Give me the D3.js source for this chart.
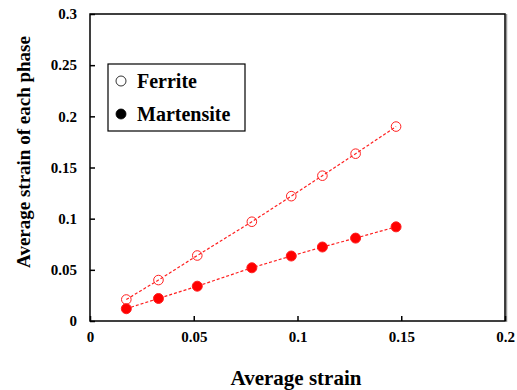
<!DOCTYPE html>
<html>
<head>
    <title>Average strain of each phase</title>
    <script src="https://cdnjs.cloudflare.com/ajax/libs/d3/7.8.5/d3.min.js"></script>
    <style>
    body { margin:0; background:#fff; }
    svg text { font-weight:bold; fill:#000; }
    </style>
</head>
<body>
<div class='chart'></div>
<script>
// values
var avg_strain = [0.0175, 0.033, 0.0517, 0.078, 0.097, 0.112, 0.128, 0.1475];
var ferrite    = [0.021, 0.040, 0.064, 0.097, 0.122, 0.142, 0.1635, 0.190];
var martensite = [0.012, 0.022, 0.034, 0.052, 0.0635, 0.0723, 0.081, 0.092];
var x_ticks = [0, 0.05, 0.1, 0.15, 0.2];
var y_ticks = [0, 0.05, 0.1, 0.15, 0.2, 0.25, 0.3];

var width = 517, height = 390;
var plot_left = 90, plot_right = 505, plot_top = 14, plot_bottom = 321;
var serif = "Liberation Serif, DejaVu Serif";

var svg = d3.select('.chart').append('svg')
    .attr('width', width)
    .attr('height', height);

var x = d3.scaleLinear().domain([0, 0.2]).range([plot_left, plot_right]);
var y = d3.scaleLinear().domain([0, 0.3]).range([plot_bottom, plot_top]);

// frame with a faint shadow on the right
svg.append('line').attr('x1', plot_right + 1.5).attr('x2', plot_right + 1.5)
    .attr('y1', plot_top).attr('y2', plot_bottom + 1)
    .attr('stroke', '#999').attr('stroke-width', 1.5);
svg.append('rect')
    .attr('x', plot_left).attr('y', plot_top)
    .attr('width', plot_right - plot_left).attr('height', plot_bottom - plot_top)
    .attr('fill', 'none').attr('stroke', '#000').attr('stroke-width', 1.5);

// axes, ticks pointing inward
var xAxis = d3.axisBottom(x).tickValues(x_ticks).tickSize(-5).tickPadding(10)
    .tickFormat(function(d) { return String(d); });
var gx = svg.append('g').attr('transform', 'translate(0,' + plot_bottom + ')').call(xAxis);
var yAxis = d3.axisLeft(y).tickValues(y_ticks).tickSize(-5).tickPadding(13)
    .tickFormat(function(d) { return String(d); });
var gy = svg.append('g').attr('transform', 'translate(' + plot_left + ',0)').call(yAxis);

[gx, gy].forEach(function(g) {
    g.select('.domain').remove();
    g.attr('font-size', null).attr('font-family', null);
    g.selectAll('line').attr('stroke', '#000').attr('stroke-width', 1.5);
    g.selectAll('text').attr('font-family', serif).attr('font-size', 15);
});

// axis titles
svg.append('text').attr('x', 296).attr('y', 385)
    .attr('text-anchor', 'middle').attr('font-family', serif).attr('font-size', 21)
    .text('Average strain');
svg.append('text').attr('transform', 'translate(30,152) rotate(-90)')
    .attr('text-anchor', 'middle').attr('font-family', serif).attr('font-size', 19)
    .text('Average strain of each phase');

// series
var line = d3.line().x(function(d) { return x(d[0]); }).y(function(d) { return y(d[1]); });
var series = [
    { name:'Ferrite', values:ferrite, open:true },
    { name:'Martensite', values:martensite, open:false }
];
series.forEach(function(s) {
    var pts = d3.zip(avg_strain, s.values);
    svg.append('path').datum(pts).attr('d', line)
        .attr('fill', 'none').attr('stroke', '#ff2020')
        .attr('stroke-width', 1.2).attr('stroke-dasharray', '3,2');
    svg.selectAll('.pt-' + s.name).data(pts).enter().append('circle')
        .attr('cx', function(d) { return x(d[0]); })
        .attr('cy', function(d) { return y(d[1]); })
        .attr('r', s.open ? 4.8 : 5)
        .attr('fill', s.open ? 'none' : '#ff0000')
        .attr('stroke', '#ff2020').attr('stroke-width', 1);
});

// legend
var lg = svg.append('g');
lg.append('rect').attr('x', 108).attr('y', 64).attr('width', 137).attr('height', 67)
    .attr('fill', '#fff').attr('stroke', '#000').attr('stroke-width', 1.2);
series.forEach(function(s, i) {
    var cy = 81 + i * 33;
    lg.append('circle').attr('cx', 121).attr('cy', cy).attr('r', 5)
        .attr('fill', s.open ? '#fff' : '#000').attr('stroke', '#000').attr('stroke-width', 0.8);
    lg.append('text').attr('x', 137).attr('y', cy + 6.5)
        .attr('font-family', serif).attr('font-size', 20).text(s.name);
});
</script>
</body>
</html>
